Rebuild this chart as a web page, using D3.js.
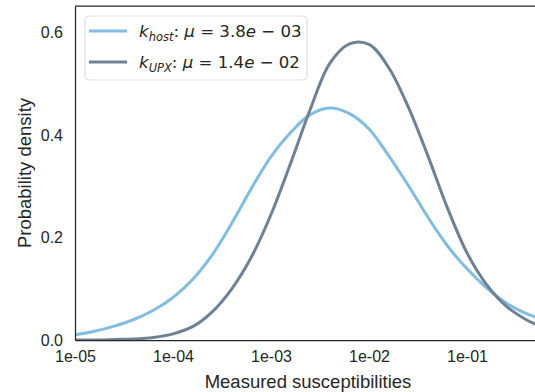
<!DOCTYPE html>
<html>
<head>
<meta charset="utf-8">
<script src="https://cdn.jsdelivr.net/npm/d3@7"></script>
<style>
  html, body { margin: 0; padding: 0; background: #fff; }
  svg { display: block; }
</style>
</head>
<body>
<div id="chart"></div>
<script>
// log10 of the measured susceptibility, one grid for both curves
const logX = [-5.0, -4.8, -4.6, -4.4, -4.2, -4.0, -3.8, -3.6, -3.4, -3.2, -3.0, -2.8, -2.6,
              -2.4, -2.2, -2.0, -1.8, -1.6, -1.4, -1.2, -1.0, -0.8, -0.6, -0.4, -0.3, -0.24];

const hostDensity = [0.010, 0.017, 0.027, 0.040, 0.058, 0.083, 0.118, 0.166, 0.228, 0.296, 0.358, 0.405, 0.440,
                     0.453, 0.442, 0.412, 0.360, 0.302, 0.240, 0.184, 0.139, 0.102, 0.072, 0.052, 0.045, 0.041];

const upxDensity = [0.000, 0.000, 0.001, 0.002, 0.005, 0.012, 0.026, 0.055, 0.100, 0.162, 0.245, 0.345, 0.450,
                    0.540, 0.578, 0.577, 0.532, 0.455, 0.360, 0.258, 0.170, 0.108, 0.066, 0.040, 0.031, 0.026];

const xTicks = [1e-5, 1e-4, 1e-3, 1e-2, 1e-1];
const yTicks = [0.0, 0.2, 0.4, 0.6];

const series = [
  { key: 'host', sub: 'host', mu: '3.8', exp: '03', color: '#80bde0', values: hostDensity },
  { key: 'upx',  sub: 'UPX',  mu: '1.4', exp: '02', color: '#6f8295', values: upxDensity }
];

const width = 535, height = 392;
const margin = { left: 75, top: 6, right: 541, bottom: 340 };

const svg = d3.select('#chart').append('svg')
  .attr('width', width)
  .attr('height', height);

const x = d3.scaleLog()
  .domain([1e-5, Math.pow(10, -0.245)])
  .range([margin.left, margin.right]);

const y = d3.scaleLinear()
  .domain([0, 0.652])
  .range([margin.bottom, margin.top]);

svg.append('defs').append('clipPath').attr('id', 'plot-clip')
  .append('rect')
  .attr('x', margin.left).attr('y', margin.top)
  .attr('width', margin.right - margin.left)
  .attr('height', margin.bottom - margin.top);

const line = d3.line()
  .x(d => x(Math.pow(10, d[0])))
  .y(d => y(d[1]))
  .curve(d3.curveCatmullRom.alpha(0.5));

const g = svg.append('g').attr('clip-path', 'url(#plot-clip)');
series.forEach(s => {
  g.append('path')
    .datum(logX.map((lx, i) => [lx, s.values[i]]))
    .attr('fill', 'none')
    .attr('stroke', s.color)
    .attr('stroke-width', 3)
    .attr('stroke-linejoin', 'round')
    .attr('d', line);
});

// axes, seaborn white style: no tick marks
const xAxis = svg.append('g')
  .attr('transform', `translate(0,${margin.bottom})`)
  .call(d3.axisBottom(x).tickValues(xTicks).tickSize(0).tickPadding(11)
    .tickFormat(d => d.toExponential(0).replace(/e([+-])(\d)$/, 'e$10$2')));

const yAxis = svg.append('g')
  .attr('transform', `translate(${margin.left},0)`)
  .call(d3.axisLeft(y).tickValues(yTicks).tickSize(0).tickPadding(12)
    .tickFormat(d3.format('.1f')));

[xAxis, yAxis].forEach(a => {
  a.select('.domain').attr('stroke', '#262626').attr('stroke-width', 1.25);
  a.selectAll('text')
    .attr('fill', '#262626')
    .style('font-family', '"Liberation Sans", Arial, sans-serif')
    .style('font-size', '16px');
});

// top spine
svg.append('line')
  .attr('x1', margin.left).attr('x2', margin.right)
  .attr('y1', margin.top).attr('y2', margin.top)
  .attr('stroke', '#262626').attr('stroke-width', 1.25);

svg.append('text')
  .attr('x', 308)
  .attr('y', 388)
  .attr('text-anchor', 'middle')
  .attr('fill', '#262626')
  .style('font-family', '"Liberation Sans", Arial, sans-serif')
  .style('font-size', '18.5px')
  .text('Measured susceptibilities');

svg.append('text')
  .attr('transform', `translate(31,${(margin.top + margin.bottom) / 2}) rotate(-90)`)
  .attr('text-anchor', 'middle')
  .attr('fill', '#262626')
  .style('font-family', '"Liberation Sans", Arial, sans-serif')
  .style('font-size', '18.5px')
  .text('Probability density');

// legend
const legend = svg.append('g').attr('transform', 'translate(85,16)');
legend.append('rect')
  .attr('width', 222).attr('height', 64)
  .attr('rx', 4)
  .attr('fill', '#fff').attr('fill-opacity', 0.8)
  .attr('stroke', '#dddddd').attr('stroke-width', 1);

series.forEach((s, i) => {
  const row = legend.append('g').attr('transform', `translate(0,${15 + i * 31})`);
  row.append('line')
    .attr('x1', 4).attr('x2', 42)
    .attr('stroke', s.color).attr('stroke-width', 3);
  const t = row.append('text')
    .attr('x', 54).attr('y', 6)
    .attr('fill', '#262626')
    .style('font-family', '"DejaVu Sans", sans-serif')
    .style('font-size', '16.6px');
  t.append('tspan').style('font-style', 'italic').text('k');
  t.append('tspan').style('font-style', 'italic').style('font-size', '11.5px')
    .attr('dy', 3.5).text(s.sub);
  t.append('tspan').attr('dy', -3.5).text(': ');
  t.append('tspan').style('font-style', 'italic').text('μ');
  t.append('tspan').text(' = ' + s.mu);
  t.append('tspan').style('font-style', 'italic').text('e');
  t.append('tspan').text(' − ' + s.exp);
});
</script>
</body>
</html>
